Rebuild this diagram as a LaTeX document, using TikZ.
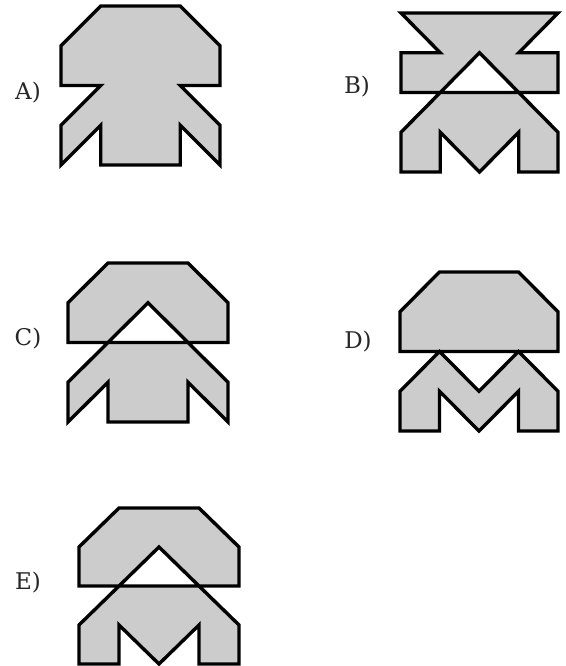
\documentclass[tikz,border=0pt]{standalone}
\usepackage{fontspec}
\setmainfont{DejaVu Serif}
\definecolor{shapegray}{RGB}{204,204,204}
\tikzset{
  shapestyle/.style={draw=black, fill=shapegray, line width=3.4pt, even odd rule, line join=miter, miter limit=3},
  lbl/.style={font=\fontsize{23}{28}\selectfont, inner sep=0pt, text=black!85}
}
\begin{document}
\begin{tikzpicture}[x=1pt,y=-1pt]
\useasboundingbox (0,0) rectangle (565,666);
% A
\begin{scope}[shift={(61,6)}, x=39.75pt, y=-39.75pt]
\path[shapestyle] (1,0)--(3,0)--(4,1)--(4,2)--(3,2)--(4,3)--(4,4)--(3,3)--(3,4)--(1,4)--(1,3)--(0,4)--(0,3)--(1,2)--(0,2)--(0,1)--cycle;
\end{scope}
\node[lbl] (la) at (28,93) {A)};
% B
\begin{scope}[shift={(401,13)}, x=39.25pt, y=-39.75pt]
\path[shapestyle] (0,0)--(4,0)--(3,1)--(4,1)--(4,2)--(0,2)--(0,1)--(1,1)--cycle
  (2,1)--(4,3)--(4,4)--(3,4)--(3,3)--(2,4)--(1,3)--(1,4)--(0,4)--(0,3)--cycle;
\end{scope}
\node[lbl] (lb) at (357,87) {B)};
% C
\begin{scope}[shift={(68,263)}, x=40pt, y=-39.75pt]
\path[shapestyle] (1,0)--(3,0)--(4,1)--(4,2)--(0,2)--(0,1)--cycle
  (2,1)--(4,3)--(4,4)--(3,3)--(3,4)--(1,4)--(1,3)--(0,4)--(0,3)--cycle;
\end{scope}
\node[lbl] (lc) at (28,339) {C)};
% D
\begin{scope}[shift={(400,272)}, x=39.5pt, y=-39.75pt]
\path[shapestyle] (1,0)--(3,0)--(4,1)--(4,2)--(0,2)--(0,1)--cycle
  (1,2)--(2,3)--(3,2)--(4,3)--(4,4)--(3,4)--(3,3)--(2,4)--(1,3)--(1,4)--(0,4)--(0,3)--cycle;
\end{scope}
\node[lbl] (ld) at (358,342) {D)};
% E
\begin{scope}[shift={(79,508)}, x=40pt, y=-39pt]
\path[shapestyle] (1,0)--(3,0)--(4,1)--(4,2)--(0,2)--(0,1)--cycle
  (2,1)--(4,3)--(4,4)--(3,4)--(3,3)--(2,4)--(1,3)--(1,4)--(0,4)--(0,3)--cycle;
\end{scope}
\node[lbl] (le) at (28,583) {E)};
\end{tikzpicture}
\end{document}
